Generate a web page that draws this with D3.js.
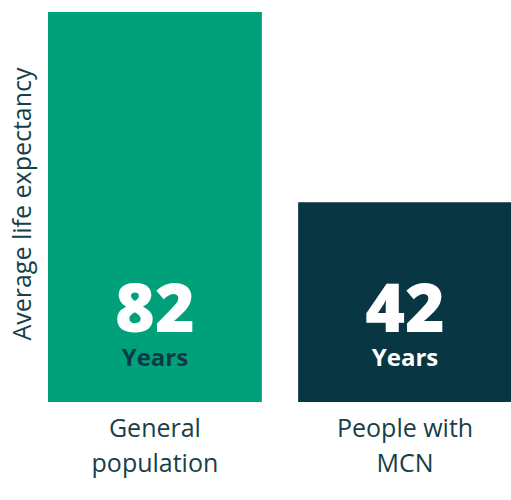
<!DOCTYPE html>
<html>
<head>
<meta charset="utf-8">
<script src="https://cdn.jsdelivr.net/npm/d3@7"></script>
<style>
  html, body { margin: 0; padding: 0; background: #fff; }
  svg { display: block; font-family: "Open Sans", "Noto Sans", sans-serif; }
</style>
</head>
<body>
<svg id="chart" width="511" height="500"></svg>
<script>
const categories = ["General population", "People with MCN"];
const labelLines = [["General", "population"], ["People with", "MCN"]];
const values = [82, 42];
const unitLabel = "Years";
const axisTitle = "Average life expectancy";
const barColors = ["#00A07B", "#083743"];
const unitColors = ["#0B3A47", "#FFFFFF"];

const svg = d3.select("#chart");
const x = d3.scaleBand().domain(categories).range([48, 512]).paddingInner(0.145).paddingOuter(0);
const y = d3.scaleLinear().domain([0, 82]).range([402, 12]);

const g = svg.append("g");
const bars = g.selectAll("g.bar").data(categories).join("g").attr("class", "bar");

bars.append("rect")
  .attr("x", d => x(d))
  .attr("y", (d, i) => y(values[i]))
  .attr("width", x.bandwidth())
  .attr("height", (d, i) => y(0) - y(values[i]))
  .attr("fill", (d, i) => barColors[i]);

bars.append("text")
  .attr("x", d => x(d) + x.bandwidth() / 2)
  .attr("y", 332)
  .attr("text-anchor", "middle")
  .attr("font-size", 68)
  .attr("font-weight", 800)
  .attr("fill", "#fff")
  .text((d, i) => values[i]);

bars.append("text")
  .attr("x", d => x(d) + x.bandwidth() / 2)
  .attr("y", 366)
  .attr("text-anchor", "middle")
  .attr("font-size", 24)
  .attr("font-weight", 700)
  .attr("fill", (d, i) => unitColors[i])
  .text(unitLabel);

bars.each(function(d, i) {
  const t = d3.select(this).append("text")
    .attr("text-anchor", "middle")
    .attr("font-size", 25)
    .attr("fill", "#163F4A");
  labelLines[i].forEach((line, j) => {
    t.append("tspan")
      .attr("x", x(d) + x.bandwidth() / 2)
      .attr("y", 437 + j * 35)
      .text(line);
  });
});

svg.append("text")
  .attr("transform", "translate(31,204) rotate(-90)")
  .attr("text-anchor", "middle")
  .attr("font-size", 25)
  .attr("fill", "#163F4A")
  .text(axisTitle);
</script>
</body>
</html>
